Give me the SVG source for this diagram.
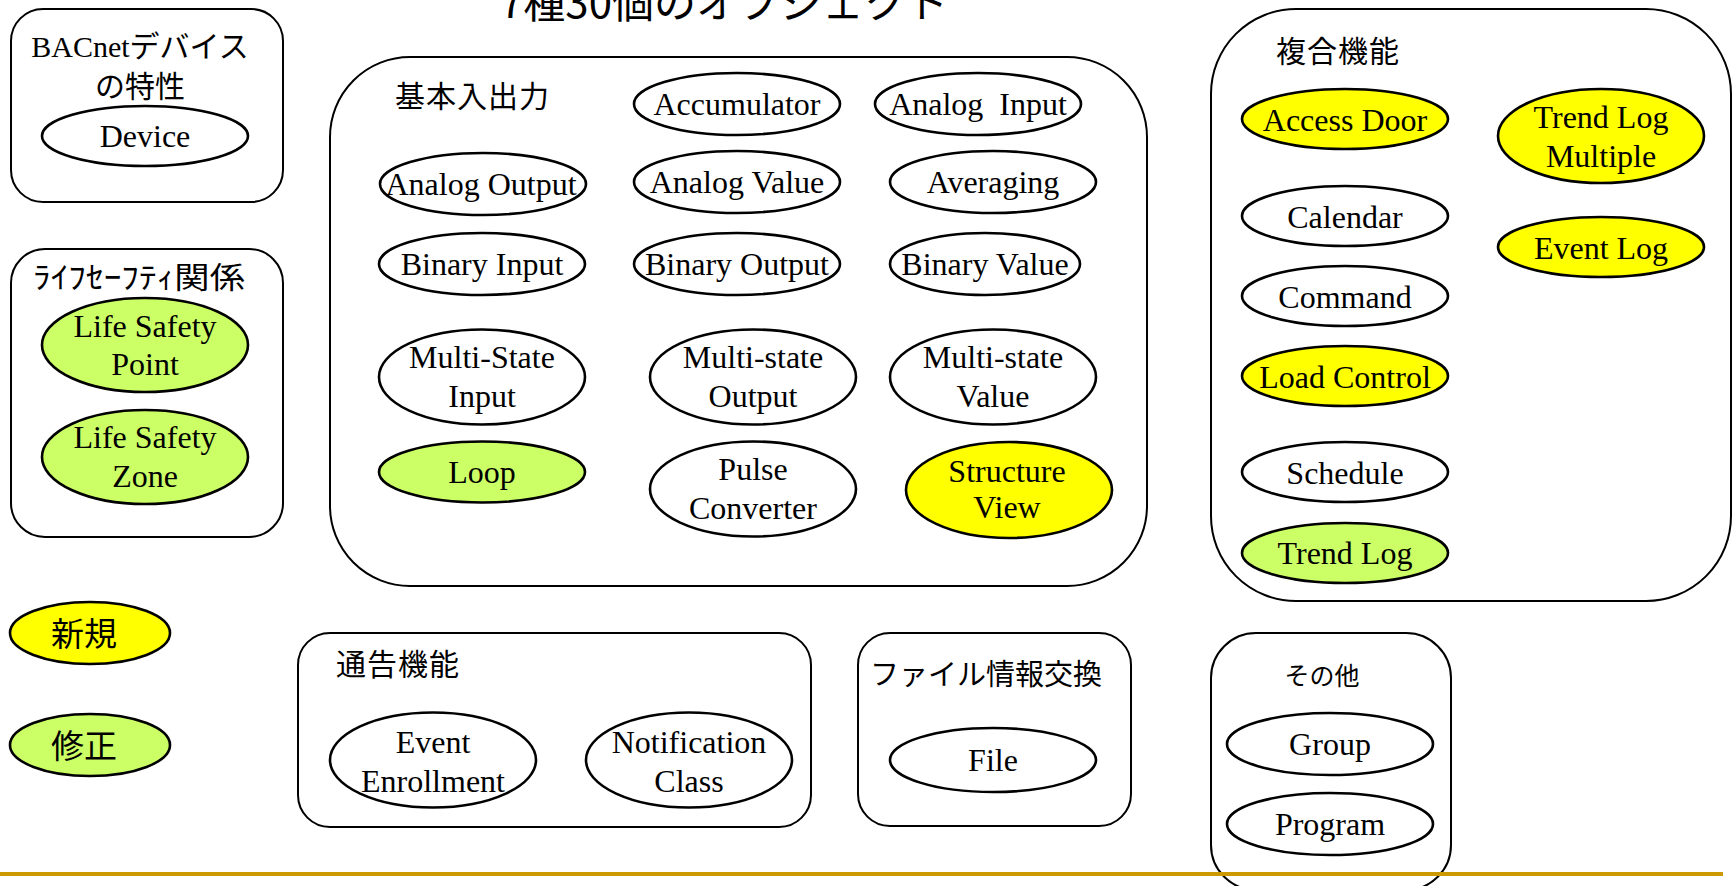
<svg xmlns="http://www.w3.org/2000/svg" width="1733" height="886" viewBox="0 0 1733 886">
<style>
.box{fill:#fff;stroke:#000;stroke-width:2}
.obj{fill:#fff;stroke:#000;stroke-width:2.6}
.new{fill:#ffff00}
.mod{fill:#ccff66}
.lbl{font-family:"Liberation Serif","Noto Sans CJK JP",serif;font-size:32px;text-anchor:middle;fill:#000}
.ttl{font-family:"Noto Sans CJK JP",sans-serif;font-size:30px;fill:#000}
.mix{font-family:"Liberation Serif","Noto Sans CJK JP",serif;font-size:30px;text-anchor:middle;fill:#000}
</style>
<rect x="0" y="0" width="1733" height="886" fill="#fff"/>
<text x="724" y="18" style="font-family:'Noto Sans CJK JP',sans-serif;font-size:42px;text-anchor:middle">7種30個のオブジェクト</text>

<g id="grp-device">
<rect class="box" x="11" y="9" width="272" height="193" rx="32"/>
<text class="mix" x="140" y="57">BACnetデバイス</text>
<text class="mix" x="140" y="97">の特性</text>
<g id="obj-device"><ellipse class="obj" cx="145" cy="136" rx="103" ry="30"/><text class="lbl" x="145" y="147">Device</text></g>
</g>

<g id="grp-lifesafety">
<rect class="box" x="11" y="249" width="272" height="288" rx="34"/>
<text class="ttl" x="33" y="288" textLength="212" lengthAdjust="spacingAndGlyphs">ﾗｲﾌｾｰﾌﾃｨ関係</text>
<g id="obj-lsp"><ellipse class="obj mod" cx="145" cy="345" rx="103" ry="47"/><text class="lbl" x="145" y="337">Life Safety</text><text class="lbl" x="145" y="375">Point</text></g>
<g id="obj-lsz"><ellipse class="obj mod" cx="145" cy="457" rx="103" ry="47"/><text class="lbl" x="145" y="448">Life Safety</text><text class="lbl" x="145" y="487">Zone</text></g>
</g>

<g id="legend">
<g id="legend-new"><ellipse class="obj new" cx="90" cy="633" rx="80" ry="31"/><text x="84" y="646" style="font-family:'Noto Sans CJK JP',sans-serif;font-size:33px;text-anchor:middle">新規</text></g>
<g id="legend-mod"><ellipse class="obj mod" cx="90" cy="745" rx="80" ry="31"/><text x="84" y="758" style="font-family:'Noto Sans CJK JP',sans-serif;font-size:33px;text-anchor:middle">修正</text></g>
</g>

<g id="grp-basic">
<rect class="box" x="330" y="57" width="817" height="529" rx="80"/>
<text class="ttl" x="395" y="107" letter-spacing="1">基本入出力</text>
<g id="obj-accumulator"><ellipse class="obj" cx="737" cy="104" rx="103" ry="31"/><text class="lbl" x="737" y="115">Accumulator</text></g>
<g id="obj-ai"><ellipse class="obj" cx="978" cy="104" rx="103" ry="31"/><text class="lbl" x="978" y="115" style="white-space:pre" xml:space="preserve">Analog  Input</text></g>
<g id="obj-ao"><ellipse class="obj" cx="483" cy="184" rx="103" ry="31"/><text class="lbl" x="481" y="195">Analog Output</text></g>
<g id="obj-av"><ellipse class="obj" cx="737" cy="182" rx="103" ry="31"/><text class="lbl" x="737" y="193">Analog Value</text></g>
<g id="obj-averaging"><ellipse class="obj" cx="993" cy="182" rx="103" ry="31"/><text class="lbl" x="993" y="193">Averaging</text></g>
<g id="obj-bi"><ellipse class="obj" cx="482" cy="264" rx="103" ry="31"/><text class="lbl" x="482" y="275">Binary Input</text></g>
<g id="obj-bo"><ellipse class="obj" cx="737" cy="264" rx="103" ry="31"/><text class="lbl" x="737" y="275">Binary Output</text></g>
<g id="obj-bv"><ellipse class="obj" cx="985" cy="264" rx="95" ry="31"/><text class="lbl" x="985" y="275">Binary Value</text></g>
<g id="obj-msi"><ellipse class="obj" cx="482" cy="377" rx="103" ry="47.5"/><text class="lbl" x="482" y="368">Multi-State</text><text class="lbl" x="482" y="407">Input</text></g>
<g id="obj-mso"><ellipse class="obj" cx="753" cy="377" rx="103" ry="47.5"/><text class="lbl" x="753" y="368">Multi-state</text><text class="lbl" x="753" y="407">Output</text></g>
<g id="obj-msv"><ellipse class="obj" cx="993" cy="377" rx="103" ry="47.5"/><text class="lbl" x="993" y="368">Multi-state</text><text class="lbl" x="993" y="407">Value</text></g>
<g id="obj-loop"><ellipse class="obj mod" cx="482" cy="472" rx="103" ry="30.5"/><text class="lbl" x="482" y="483">Loop</text></g>
<g id="obj-pc"><ellipse class="obj" cx="753" cy="489" rx="103" ry="47.5"/><text class="lbl" x="753" y="480">Pulse</text><text class="lbl" x="753" y="519">Converter</text></g>
<g id="obj-sv"><ellipse class="obj new" cx="1009" cy="490" rx="103" ry="48"/><text class="lbl" x="1007" y="482">Structure</text><text class="lbl" x="1007" y="518">View</text></g>
</g>

<g id="grp-complex">
<rect class="box" x="1211" y="9" width="520" height="592" rx="85"/>
<text class="ttl" x="1276" y="62" letter-spacing="1">複合機能</text>
<g id="obj-accessdoor"><ellipse class="obj new" cx="1345" cy="119" rx="103" ry="30"/><text class="lbl" x="1345" y="131">Access Door</text></g>
<g id="obj-tlm"><ellipse class="obj new" cx="1601" cy="136" rx="103" ry="47"/><text class="lbl" x="1601" y="128">Trend Log</text><text class="lbl" x="1601" y="167">Multiple</text></g>
<g id="obj-calendar"><ellipse class="obj" cx="1345" cy="216" rx="103" ry="30"/><text class="lbl" x="1345" y="228">Calendar</text></g>
<g id="obj-eventlog"><ellipse class="obj new" cx="1601" cy="247" rx="103" ry="30"/><text class="lbl" x="1601" y="259">Event Log</text></g>
<g id="obj-command"><ellipse class="obj" cx="1345" cy="296" rx="103" ry="30"/><text class="lbl" x="1345" y="308">Command</text></g>
<g id="obj-loadcontrol"><ellipse class="obj new" cx="1345" cy="376" rx="103" ry="30"/><text class="lbl" x="1345" y="388">Load Control</text></g>
<g id="obj-schedule"><ellipse class="obj" cx="1345" cy="472" rx="103" ry="30"/><text class="lbl" x="1345" y="484">Schedule</text></g>
<g id="obj-trendlog"><ellipse class="obj mod" cx="1345" cy="553" rx="103" ry="30"/><text class="lbl" x="1345" y="564">Trend Log</text></g>
</g>

<g id="grp-notify">
<rect class="box" x="298" y="633" width="513" height="194" rx="32"/>
<text class="ttl" x="336" y="675" letter-spacing="1">通告機能</text>
<g id="obj-ee"><ellipse class="obj" cx="433" cy="760" rx="103" ry="47.5"/><text class="lbl" x="433" y="753">Event</text><text class="lbl" x="433" y="792">Enrollment</text></g>
<g id="obj-nc"><ellipse class="obj" cx="689" cy="760" rx="103" ry="47.5"/><text class="lbl" x="689" y="753">Notification</text><text class="lbl" x="689" y="792">Class</text></g>
</g>

<g id="grp-file">
<rect class="box" x="858" y="633" width="273" height="193" rx="32"/>
<text class="ttl" x="870" y="685" style="font-size:29px">ファイル情報交換</text>
<g id="obj-file"><ellipse class="obj" cx="993" cy="760" rx="103" ry="32"/><text class="lbl" x="993" y="771">File</text></g>
</g>

<g id="grp-other">
<rect class="box" x="1211" y="633" width="240" height="257" rx="45"/>
<text class="ttl" x="1322" y="685" style="font-size:25px;text-anchor:middle">その他</text>
<g id="obj-group"><ellipse class="obj" cx="1330" cy="744" rx="103" ry="31"/><text class="lbl" x="1330" y="755">Group</text></g>
<g id="obj-program"><ellipse class="obj" cx="1330" cy="824" rx="103" ry="31"/><text class="lbl" x="1330" y="835">Program</text></g>
</g>

<g id="connectors"></g>
<line x1="0" y1="874" x2="1723" y2="874" stroke="#cc9900" stroke-width="4"/>
</svg>
